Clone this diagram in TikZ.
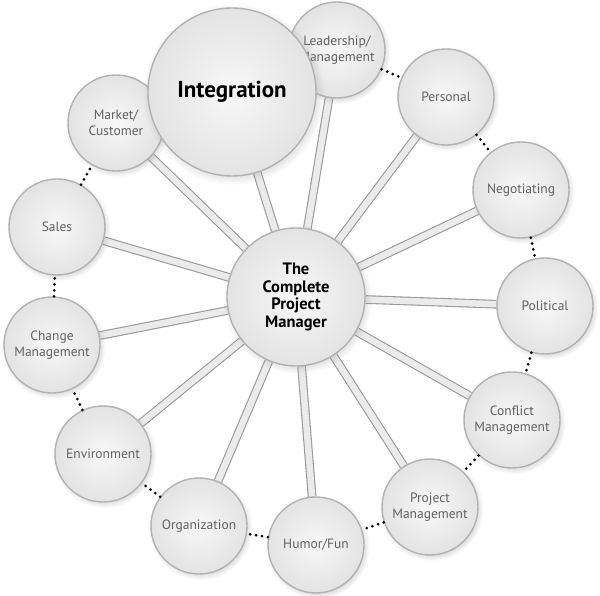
\documentclass[tikz,border=0pt]{standalone}
\usepackage{fontspec}
\setmainfont{PT Sans}
\usetikzlibrary{shadows,backgrounds}

\begin{document}
\begin{tikzpicture}[x=1pt,y=1pt,
  ball/.style={circle,draw=black!30,line width=1.4pt,inner color=black!3,outer color=black!11,
    minimum size=96pt,inner sep=0pt,align=center,text=black!62,font=\fontsize{13.5}{15.5}\selectfont,
    circular drop shadow={shadow xshift=1.5pt,shadow yshift=-2pt,shadow scale=1.08,opacity=0.3}},
  tube/.style={draw=black!40,line width=1.1pt,double=black!8,double distance=6.5pt},
  dots/.style={line width=3pt,line cap=round,dash pattern=on 0pt off 6pt}]
\useasboundingbox (0,0) rectangle (600,595);
% outer ring, clockwise from the top
\node[ball] (lead) at (337,545) {Leadership/\\Management};
\node[ball] (pers) at (446,498) {Personal};
\node[ball] (nego) at (521,405) {Negotiating};
\node[ball] (poli) at (545,289) {Political};
\node[ball] (conf) at (512,175) {Conflict\\Management};
\node[ball] (proj) at (430,88) {Project\\Management};
\node[ball] (humo) at (316,50) {Humor/Fun};
\node[ball] (orga) at (199,69) {Organization};
\node[ball] (envi) at (103,141) {Environment};
\node[ball] (chan) at (52,250) {Change\\Management};
\node[ball] (sale) at (57,368) {Sales};
\node[ball] (mark) at (116,472) {Market/\\Customer};
\node[ball,minimum size=168pt,text=black,font=\fontsize{23}{25}\selectfont\bfseries] (inte) at (232,503) {Integration};
% hub
\node[ball,minimum size=138pt,text=black,font=\fontsize{16.5}{17.5}\selectfont\bfseries] (ctr) at (296,298) {The\\Complete\\Project\\Manager};
\begin{pgfonlayer}{background}
\foreach \n in {inte,lead,pers,nego,poli,conf,proj,humo,orga,envi,chan,sale,mark}
  \draw[tube] (ctr) -- (\n);
\end{pgfonlayer}
\draw[dots] (lead) -- (pers);
\draw[dots] (pers) -- (nego);
\draw[dots] (nego) -- (poli);
\draw[dots] (poli) -- (conf);
\draw[dots] (conf) -- (proj);
\draw[dots] (proj) -- (humo);
\draw[dots] (humo) -- (orga);
\draw[dots] (orga) -- (envi);
\draw[dots] (envi) -- (chan);
\draw[dots] (chan) -- (sale);
\draw[dots] (sale) -- (mark);
\end{tikzpicture}
\end{document}
